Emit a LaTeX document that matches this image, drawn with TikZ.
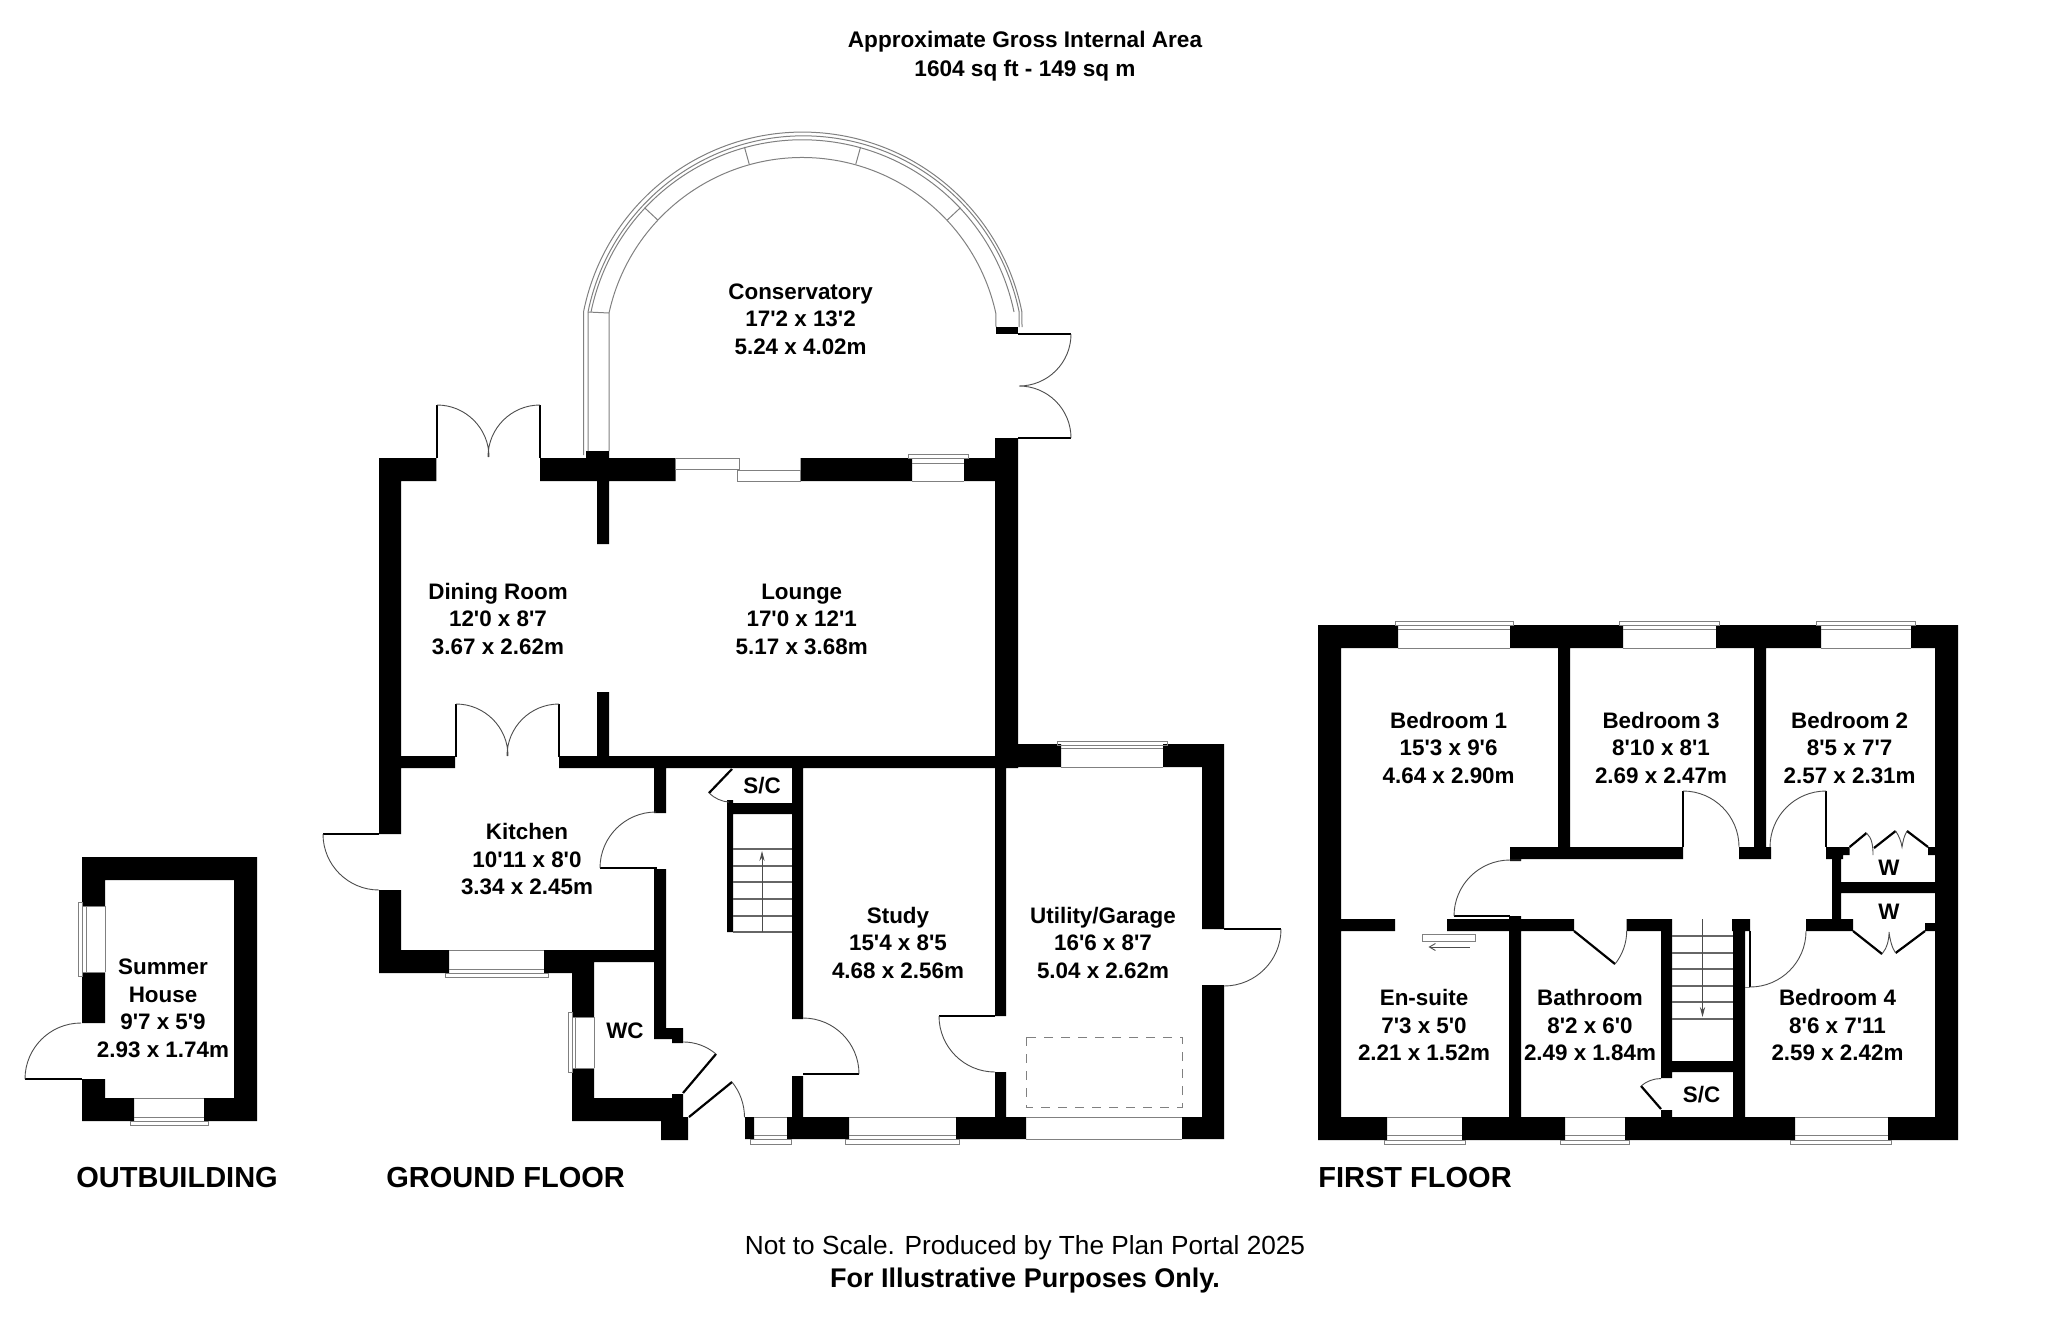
\documentclass[tikz,border=0pt]{standalone}
\usepackage{fontspec}
\setmainfont{Liberation Sans}[Ligatures=TeXOff]
\usetikzlibrary{arrows.meta}
\tikzset{
  wall/.style={fill=black},
  pane/.style={draw=black!50,line width=0.5pt},
  leaf/.style={draw=black,line width=1.1pt},
  swing/.style={draw=black!70,line width=0.45pt},
  tread/.style={draw=black!60,line width=0.6pt},
  room/.style={font=\fontsize{11.2}{13.75}\selectfont\bfseries,align=center,inner sep=0pt},
  tag/.style={font=\fontsize{14.5}{16}\selectfont\bfseries,anchor=west,inner sep=0pt},
  note/.style={font=\fontsize{13.1}{15}\selectfont,align=center,inner sep=0pt}
}
\begin{document}
\begin{tikzpicture}[x=0.5pt,y=0.5pt,yscale=-1,xscale=1]
\useasboundingbox (0,0) rectangle (2048,1327);

%Shape: Ground floor walls
\fill[wall] (379,458) rectangle (401,834) (379,890) rectangle (401,973)
  (379,458) rectangle (436.4,481) (540,458) rectangle (675.5,481)
  (800.6,458) rectangle (912,481) (964,458) rectangle (1018,481)
  (586,451) rectangle (609,458) (597,481) rectangle (609,544) (597,692) rectangle (609,757)
  (995,438) rectangle (1018,767) (401,756) rectangle (455,768) (559,756) rectangle (1018,768)
  (654,768) rectangle (666,813) (654,869) rectangle (666,1039) (654,1028) rectangle (672,1039) (672,1028) rectangle (683,1043)
  (379,950) rectangle (449,973) (544,950) rectangle (654,962) (544,950) rectangle (572,973)
  (572,950) rectangle (594,1017) (572,1068) rectangle (594,1121)
  (572,1098) rectangle (672,1121) (661,1117) rectangle (688,1140) (672,1094) rectangle (683,1117)
  (727,800) rectangle (733,932) (727,803) rectangle (793,814)
  (792,768) rectangle (803,1019) (792,1076) rectangle (803,1117)
  (745,1117) rectangle (754,1139) (787,1117) rectangle (849,1139) (956,1117) rectangle (1026,1139) (1182,1117) rectangle (1224,1139)
  (995,767) rectangle (1006,1016) (995,1072) rectangle (1006,1117)
  (1018,744) rectangle (1061,767) (1163,744) rectangle (1224,767)
  (1202,744) rectangle (1224,929) (1202,985) rectangle (1224,1139);

%Shape: Conservatory glazing
\draw[pane] (609,451) -- (609,313) arc[start angle=192.4,end angle=347.6,radius=198] -- (996,327);
\draw[pane] (583.5,455) -- (583.5,312) arc[start angle=191.25,end angle=348.75,radius=223.5] -- (1022,327);
\draw[pane] (588,451) -- (588,312) arc[start angle=191.5,end angle=348.5,radius=220] -- (1019,327);
\draw[pane] (591,312) arc[start angle=191.7,end angle=348.3,radius=216];
\foreach \a in {223,254.4,285.6,317} \draw[pane] ([shift={(802.5,355)}]\a:216) -- ([shift={(802.5,355)}]\a:198);
\draw[pane] (588,312) -- (609,313);
\fill[wall] (996,327) rectangle (1018,334);

%Shape: Ground floor windows
\draw[pane] (675.5,458) rectangle (739,469) (737,470) rectangle (800.6,481);
\draw[pane] (908,454) rectangle (968,458) (912,463) -- (964,463) (912,481) -- (964,481);
\draw[pane] (449,950) -- (544,950) (449,969) -- (544,969) (445,973) rectangle (548,977);
\draw[pane] (594,1017) -- (594,1068) (575,1017) -- (575,1068) (568,1012) rectangle (572,1072) (572,1017) -- (594,1017) (572,1068) -- (594,1068);
\draw[pane] (754,1117) -- (787,1117) (754,1135) -- (787,1135) (750,1139) rectangle (791,1144);
\draw[pane] (849,1117) -- (956,1117) (849,1135) -- (956,1135) (845,1139) rectangle (959,1144);
\draw[pane] (1061,767) -- (1163,767) (1061,748) -- (1163,748) (1057,741) rectangle (1167,745);
\draw[pane] (1026,1117) -- (1182,1117) (1026,1139) -- (1182,1139);
\draw[pane,dashed,dash pattern=on 4.5pt off 4pt] (1026,1037) rectangle (1182,1107);

%Shape: Ground floor doors
\draw[leaf] (437,458) -- (437,405) (540,458) -- (540,405) (456,757) -- (456,704) (559,757) -- (559,704);
\draw[swing] (437,405) arc[start angle=270,end angle=360,radius=52] (540,405) arc[start angle=270,end angle=180,radius=52];
\draw[swing] (456,704) arc[start angle=270,end angle=360,radius=52] (559,704) arc[start angle=270,end angle=180,radius=52];
\draw[leaf] (1018,334) -- (1071,334) (1018,438) -- (1071,438);
\draw[swing] (1071,334) arc[start angle=0,end angle=90,radius=52] (1071,438) arc[start angle=0,end angle=-90,radius=52];
\draw[leaf] (323,834) -- (379,834) (600,868) -- (657,868) (803,1074) -- (859,1074) (939,1016) -- (995,1016) (1224,929) -- (1281,929);
\draw[swing] (323,834) arc[start angle=180,end angle=90,radius=56];
\draw[swing] (600,868) arc[start angle=180,end angle=270,radius=56];
\draw[swing] (859,1074) arc[start angle=0,end angle=-90,radius=56];
\draw[swing] (939,1016) arc[start angle=180,end angle=90,radius=56];
\draw[swing] (1281,929) arc[start angle=0,end angle=90,radius=57];
\draw[leaf] (683,1093) -- (716,1054) (689,1117) -- (732,1082) (732,769) -- (709,793);
\draw[swing] (716,1054) arc[start angle=-49.8,end angle=-90,radius=51];
\draw[swing] (732,1082) arc[start angle=-39,end angle=0,radius=56];
\draw[swing] (709,793) arc[start angle=134,end angle=95,radius=33];

%Shape: Ground floor stairs
\foreach \y in {849,866,882,899,916,932} \draw[tread] (733,\y) -- (792,\y);
\draw[swing,-{Stealth[length=5pt,width=2.6pt]}] (762,932) -- (762,851);

%Shape: Summer house
\fill[wall] (82,857) rectangle (257,880) (82,857) rectangle (105,906) (82,972) rectangle (105,1023) (82,1079) rectangle (105,1121)
  (234,857) rectangle (257,1121) (82,1098) rectangle (134,1121) (204,1098) rectangle (257,1121);
\draw[pane] (105,906) -- (105,972) (86,906) -- (86,972) (82,906) -- (105,906) (82,972) -- (105,972) (78,902) rectangle (82,976);
\draw[pane] (134,1098) -- (204,1098) (134,1117) -- (204,1117) (130,1121) rectangle (208,1125);
\draw[leaf] (25,1079) -- (82,1079);
\draw[swing] (25,1079) arc[start angle=180,end angle=270,radius=56];

%Shape: First floor walls
\fill[wall] (1318,625) rectangle (1398,648) (1510,625) rectangle (1623,648) (1716,625) rectangle (1821,648) (1911,625) rectangle (1958,648)
  (1318,625) rectangle (1341,1140) (1935,625) rectangle (1958,1140)
  (1318,1117) rectangle (1387,1140) (1462,1117) rectangle (1565,1140) (1625,1117) rectangle (1795,1140) (1888,1117) rectangle (1958,1140)
  (1558,648) rectangle (1570,847) (1754,648) rectangle (1766,847)
  (1510,847) rectangle (1683,859) (1510,847) rectangle (1521,861) (1739,847) rectangle (1771,859)
  (1826,847) rectangle (1843,859) (1843,847) rectangle (1849.6,855) (1928,847) rectangle (1935,855)
  (1832,847) rectangle (1841,931) (1841,882) rectangle (1935,893)
  (1341,919) rectangle (1395,931) (1447,919) rectangle (1574,931) (1509,916) rectangle (1521,1117)
  (1626.5,919) rectangle (1672,931) (1732,919) rectangle (1750,931) (1806,919) rectangle (1853,931)
  (1841,923) rectangle (1853,931) (1925,923) rectangle (1935,931)
  (1661,931) rectangle (1672,1078) (1661,1110) rectangle (1672,1117)
  (1672,1061) rectangle (1733,1072) (1733,919) rectangle (1745,1117);

%Shape: First floor windows
\draw[pane] (1398,648) -- (1510,648) (1398,629) -- (1510,629) (1395,621) rectangle (1513.5,625);
\draw[pane] (1623,648) -- (1716,648) (1623,629) -- (1716,629) (1619,621) rectangle (1719,625);
\draw[pane] (1821,648) -- (1911,648) (1821,629) -- (1911,629) (1816.5,621) rectangle (1915,625);
\draw[pane] (1387,1117) -- (1462,1117) (1387,1135) -- (1462,1135) (1384,1140) rectangle (1465.5,1144);
\draw[pane] (1565,1117) -- (1625,1117) (1565,1135) -- (1625,1135) (1560,1140) rectangle (1629,1144);
\draw[pane] (1795,1117) -- (1888,1117) (1795,1135) -- (1888,1135) (1790.5,1140) rectangle (1891,1144);

%Shape: First floor doors
\draw[leaf] (1683,791) -- (1683,847) (1826,791) -- (1826,847) (1454,916) -- (1510,916) (1750,931) -- (1750,987);
\draw[pane] (1745,987) -- (1750,987);
\draw[swing] (1683,791) arc[start angle=270,end angle=360,radius=56];
\draw[swing] (1826,791) arc[start angle=270,end angle=180,radius=56];
\draw[swing] (1454,916) arc[start angle=180,end angle=270,radius=56] -- (1521,860);
\draw[swing] (1750,987) arc[start angle=90,end angle=0,radius=56];
\draw[leaf] (1574,931) -- (1615,964) (1661,1109) -- (1641,1086);
\draw[swing] (1615,964) arc[start angle=38.8,end angle=0,radius=53];
\draw[swing] (1641,1086) arc[start angle=229,end angle=270,radius=30.5];
\draw[pane] (1422.5,934) rectangle (1475.5,941);
\draw[swing,{Straight Barb[length=3pt,width=3.5pt]}-] (1428.5,947) -- (1469.5,947);

%Shape: Wardrobe doors
\draw[leaf] (1849.6,847) -- (1866.5,833) (1874,848) -- (1895.6,831) (1907,831) -- (1928,847);
\draw[swing] (1866.5,833) .. controls (1872,838) and (1873,846) .. (1873,855);
\draw[swing] (1895.6,831) .. controls (1899,836) and (1901,841) .. (1902,847) .. controls (1903,841) and (1904,836) .. (1907,831);
\draw[leaf] (1853,931) -- (1882,954) (1895.6,953) -- (1925,931);
\draw[swing] (1882,954) .. controls (1887,948) and (1889,940) .. (1889,932) .. controls (1890,940) and (1892,948) .. (1895.6,953);

%Shape: First floor stairs
\foreach \y in {936,953,969,986,1002,1019} \draw[tread] (1672,\y) -- (1733,\y);
\draw[swing,-{Stealth[length=5pt,width=2.6pt]}] (1702.5,919) -- (1702.5,1017);

% Text Node
\draw (1025,56) node (areatitle) [note,font=\fontsize{11.3}{14.25}\selectfont\bfseries] {Approximate Gross Internal Area\\1604 sq ft - 149 sq m};
% Text Node
\draw (800.6,319) node (conservatory) [room] {Conservatory\\17'2 x 13'2\\5.24 x 4.02m};
% Text Node
\draw (498,619) node (diningroom) [room] {Dining Room\\12'0 x 8'7\\3.67 x 2.62m};
% Text Node
\draw (801.7,619) node (lounge) [room] {Lounge\\17'0 x 12'1\\5.17 x 3.68m};
% Text Node
\draw (527,859) node (kitchen) [room] {Kitchen\\10'11 x 8'0\\3.34 x 2.45m};
% Text Node
\draw (898,942.5) node (study) [room] {Study\\15'4 x 8'5\\4.68 x 2.56m};
% Text Node
\draw (1103,942.5) node (utility) [room] {Utility/Garage\\16'6 x 8'7\\5.04 x 2.62m};
% Text Node
\draw (762,786) node (scground) [room] {S/C};
% Text Node
\draw (625,1031) node (wc) [room] {WC};
% Text Node
\draw (163,1008.5) node (summerhouse) [room] {Summer\\House\\9'7 x 5'9\\2.93 x 1.74m};
% Text Node
\draw (1448.6,747.5) node (bedroomone) [room] {Bedroom 1\\15'3 x 9'6\\4.64 x 2.90m};
% Text Node
\draw (1661,747.5) node (bedroomthree) [room] {Bedroom 3\\8'10 x 8'1\\2.69 x 2.47m};
% Text Node
\draw (1849.6,747.5) node (bedroomtwo) [room] {Bedroom 2\\8'5 x 7'7\\2.57 x 2.31m};
% Text Node
\draw (1889,868) node (wardrobeone) [room] {W};
% Text Node
\draw (1889,912) node (wardrobetwo) [room] {W};
% Text Node
\draw (1424,1025) node (ensuite) [room] {En-suite\\7'3 x 5'0\\2.21 x 1.52m};
% Text Node
\draw (1590,1025) node (bathroom) [room] {Bathroom\\8'2 x 6'0\\2.49 x 1.84m};
% Text Node
\draw (1837.5,1025) node (bedroomfour) [room] {Bedroom 4\\8'6 x 7'11\\2.59 x 2.42m};
% Text Node
\draw (1701.6,1095) node (scfirst) [room] {S/C};
% Text Node
\draw (76,1177) node (outbuilding) [tag] {OUTBUILDING};
% Text Node
\draw (386,1177) node (groundfloor) [tag] {GROUND FLOOR};
% Text Node
\draw (1318,1177) node (firstfloor) [tag] {FIRST FLOOR};
% Text Node
\draw (1025,1248) node (notscale) [note] {Not to Scale. Produced by The Plan Portal 2025};
% Text Node
\draw (1025,1280) node (illustrative) [note,font=\fontsize{13.5}{15}\selectfont\bfseries] {For Illustrative Purposes Only.};
\end{tikzpicture}
\end{document}
